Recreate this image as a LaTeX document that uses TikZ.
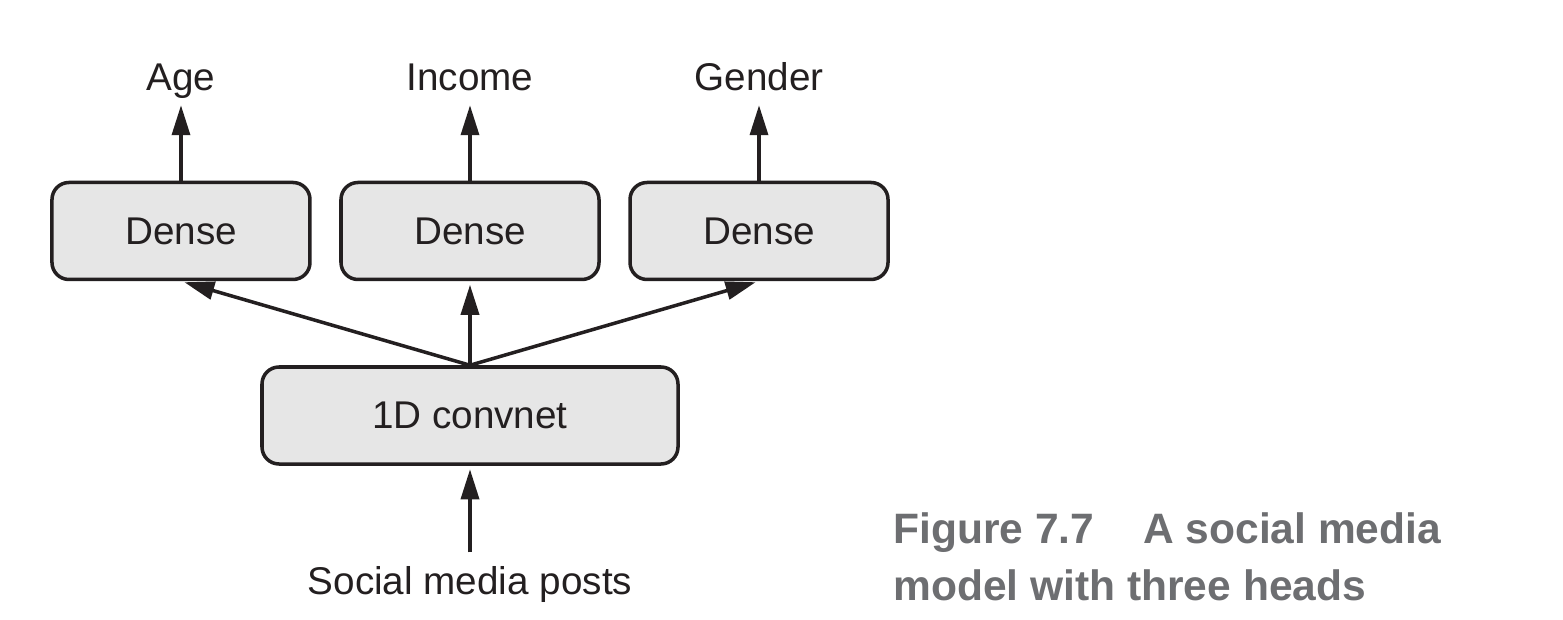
\documentclass[tikz,border=0pt]{standalone}
\usepackage{fontspec}
\setmainfont{Liberation Sans}
\usetikzlibrary{arrows.meta, positioning}
\definecolor{boxfill}{HTML}{E6E6E6}
\definecolor{ink}{HTML}{231F20}
\definecolor{capgray}{HTML}{6D6E71}
\tikzstyle{layer}=[draw=ink, fill=boxfill, line width=2pt, rounded corners=0.34cm, minimum width=5.16cm, minimum height=1.94cm, text=ink, font=\fontsize{22}{26}\selectfont]
\tikzstyle{io}=[inner xsep=0pt, inner ysep=0.05cm, text height=0.56cm, text depth=0.16cm, text=ink, font=\fontsize{22}{26}\selectfont]
\tikzstyle{flow}=[draw=ink, line width=2pt, -{Triangle[length=0.6cm,width=0.36cm]}, shorten >=2pt]
\tikzstyle{caption}=[inner sep=0pt, text=capgray, font=\fontsize{24.2}{28}\selectfont\bfseries]

\begin{document}
\begin{tikzpicture}
  \useasboundingbox (0,0) rectangle (31.26,-12.38);
  % layers
  \node[layer, minimum width=8.32cm] (conv) at (9.40,-8.31) {1D convnet};
  \node[layer] (dense2) [above=1.68cm of conv] {Dense};
  \node[layer] (dense1) [left=0.55cm of dense2] {Dense};
  \node[layer] (dense3) [right=0.55cm of dense2] {Dense};
  % input and outputs
  \node[io] (age) [above=1.58cm of dense1] {Age};
  \node[io] (income) [above=1.58cm of dense2] {Income};
  \node[io] (gender) [above=1.58cm of dense3] {Gender};
  \node[io] (posts) [below=1.95cm of conv] {Social media posts};
  \draw[flow, shorten <=0.22cm] (posts) -- (conv);
  \draw[flow] (conv.north) -- (dense1.south);
  \draw[flow] (conv.north) -- (dense2.south);
  \draw[flow] (conv.north) -- (dense3.south);
  \draw[flow] (dense1) -- (age);
  \draw[flow] (dense2) -- (income);
  \draw[flow] (dense3) -- (gender);
  % caption
  \node[caption, anchor=base west] (cap1) at (17.86,-10.86) {Figure 7.7\hspace{0.98cm}A social media};
  \node[caption, anchor=base west] (cap2) at ([yshift=-1.14cm]cap1.base west) {model with three heads};
\end{tikzpicture}
\end{document}
